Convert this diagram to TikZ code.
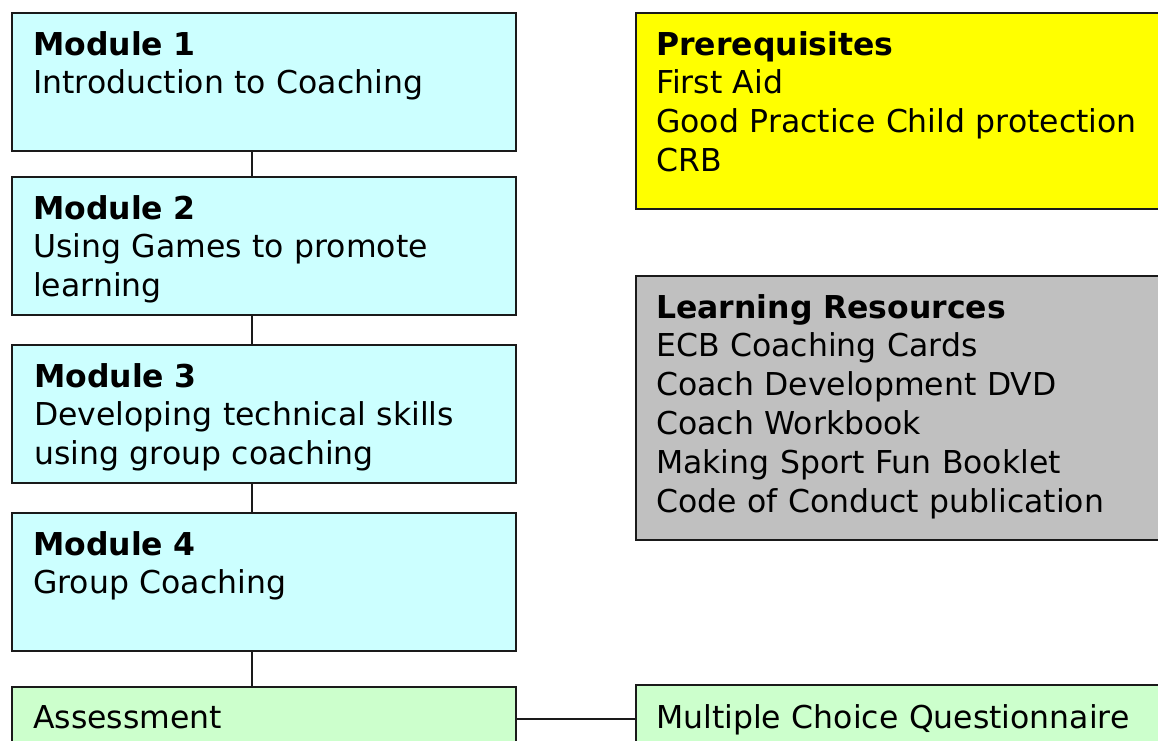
\documentclass[tikz,border=0pt]{standalone}
\usepackage{fontspec}
\setmainfont{DejaVu Sans}
\definecolor{modcyan}{HTML}{CCFFFF}
\definecolor{preyellow}{HTML}{FFFF00}
\definecolor{resgrey}{HTML}{C0C0C0}
\definecolor{assgreen}{HTML}{CCFFCC}
\definecolor{edge}{HTML}{1A1A1A}
\begin{document}
\begin{tikzpicture}[x=1pt,y=-1pt,
  box/.style={draw=edge, line width=2pt, rectangle, inner sep=0pt, anchor=north west},
  modbox/.style={box, fill=modcyan, minimum width=504pt, minimum height=138pt},
  txt/.style={anchor=base west, inner sep=0pt, align=left, text width=700pt,
    font=\fontsize{31.5}{38.8}\selectfont},
  link/.style={draw=edge, line width=2pt}]
\useasboundingbox (0,0) rectangle (1158,740);
\clip (0,0) rectangle (1158,740);
\fill[white] (0,0) rectangle (1158,740);
% left column
\node[modbox] (m1) at (11,12) {};
\node[modbox] (m2) at (11,176) {};
\node[modbox] (m3) at (11,344) {};
\node[modbox] (m4) at (11,512) {};
\node[box, fill=assgreen, minimum width=504pt, minimum height=64pt] (as) at (11,686) {};
% right column
\node[box, fill=preyellow, minimum width=560pt, minimum height=196pt] (pre) at (635,12) {};
\node[box, fill=resgrey, minimum width=560pt, minimum height=264pt] (res) at (635,275) {};
\node[box, fill=assgreen, minimum width=560pt, minimum height=68pt] (mcq) at (635,684) {};
% connectors
\draw[link] ([xshift=-12pt]m1.south) -- ([xshift=-12pt]m2.north);
\draw[link] ([xshift=-12pt]m2.south) -- ([xshift=-12pt]m3.north);
\draw[link] ([xshift=-12pt]m3.south) -- ([xshift=-12pt]m4.north);
\draw[link] ([xshift=-12pt]m4.south) -- ([xshift=-12pt]as.north);
\draw[link] (as.east) -- (mcq.west);
% texts
\node[txt] (t1) at (33,55) {\textbf{Module 1}\\Introduction to Coaching};
\node[txt] (t2) at (33,219) {\textbf{Module 2}\\Using Games to promote\\learning};
\node[txt] (t3) at (34,387) {\textbf{Module 3}\\Developing technical skills\\using group coaching};
\node[txt] (t4) at (33,555) {\textbf{Module 4}\\Group Coaching};
\node[txt] (t5) at (33,728) {Assessment};
\node[txt] (t6) at (656,55) {\textbf{Prerequisites}\\First Aid\\Good Practice Child protection\\CRB};
\node[txt] (t7) at (656,318) {\textbf{Learning Resources}\\ECB Coaching Cards\\Coach Development DVD\\Coach Workbook\\Making Sport Fun Booklet\\Code of Conduct publication};
\node[txt] (t8) at (656,728) {Multiple Choice Questionnaire};
\end{tikzpicture}
\end{document}
